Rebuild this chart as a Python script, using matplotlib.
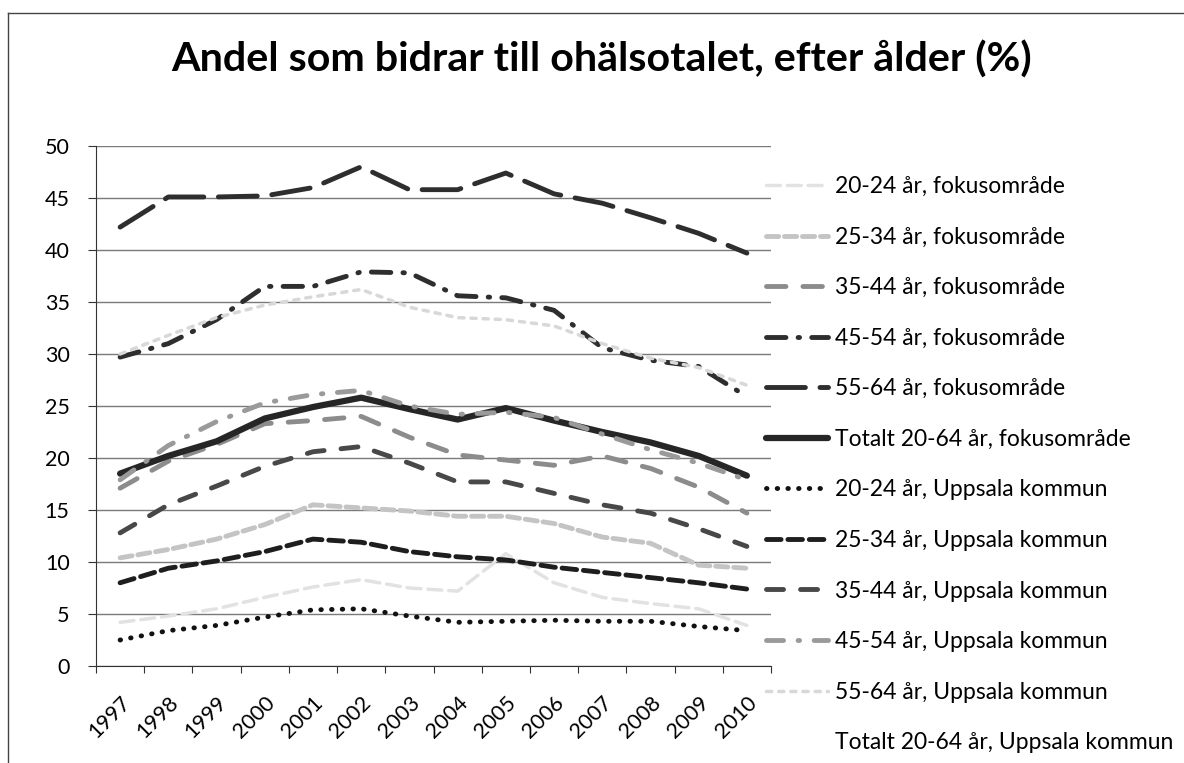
import numpy as np
import matplotlib
matplotlib.use("Agg")
import matplotlib.pyplot as plt
from matplotlib.lines import Line2D

plt.rcParams['font.family'] = ['Lato', 'DejaVu Sans']

years = [str(y) for y in range(1997, 2011)]

# fokusområde
fokus_20_24 = [4.2, 4.8, 5.5, 6.6, 7.6, 8.3, 7.5, 7.2, 10.8, 8.0, 6.6, 6.0, 5.5, 3.9]
fokus_25_34 = [10.4, 11.2, 12.2, 13.6, 15.5, 15.2, 14.9, 14.4, 14.4, 13.7, 12.4, 11.8, 9.7, 9.4]
fokus_35_44 = [17.1, 19.7, 21.3, 23.3, 23.6, 24.0, 22.0, 20.3, 19.8, 19.3, 20.2, 19.0, 17.2, 14.7]
fokus_45_54 = [29.7, 31.0, 33.3, 36.5, 36.5, 37.9, 37.8, 35.6, 35.4, 34.2, 30.6, 29.4, 28.8, 25.9]
fokus_55_64 = [42.2, 45.1, 45.1, 45.2, 46.0, 48.0, 45.8, 45.8, 47.4, 45.4, 44.5, 43.1, 41.6, 39.7]
fokus_tot = [18.5, 20.2, 21.6, 23.8, 24.9, 25.8, 24.7, 23.7, 24.8, 23.6, 22.5, 21.5, 20.2, 18.3]

# Uppsala kommun
upp_20_24 = [2.5, 3.4, 3.9, 4.7, 5.4, 5.5, 4.8, 4.2, 4.3, 4.4, 4.3, 4.3, 3.8, 3.4]
upp_25_34 = [8.0, 9.4, 10.1, 11.0, 12.2, 11.9, 11.0, 10.5, 10.2, 9.5, 9.0, 8.5, 8.0, 7.4]
upp_35_44 = [12.8, 15.5, 17.3, 19.2, 20.6, 21.1, 19.5, 17.7, 17.7, 16.6, 15.5, 14.7, 13.2, 11.5]
upp_45_54 = [17.9, 21.2, 23.5, 25.3, 26.1, 26.5, 25.0, 24.2, 24.4, 23.9, 22.3, 20.8, 19.5, 17.9]
upp_55_64 = [30.0, 31.8, 33.5, 34.7, 35.5, 36.2, 34.5, 33.5, 33.3, 32.7, 31.0, 29.6, 28.7, 27.0]

series = [
    ("20-24 år, fokusområde", fokus_20_24, "#e2e2e2", 2.5, (0, (4, 2))),
    ("25-34 år, fokusområde", fokus_25_34, "#c4c4c4", 3.5, (0, (2.5, 1.2))),
    ("35-44 år, fokusområde", fokus_35_44, "#8c8c8c", 3.5, (0, (4, 3.5))),
    ("45-54 år, fokusområde", fokus_45_54, "#2e2e2e", 3.5, (0, (4, 2.5, 0.3, 2.5))),
    ("55-64 år, fokusområde", fokus_55_64, "#2e2e2e", 3.5, (0, (8, 3))),
    ("Totalt 20-64 år, fokusområde", fokus_tot, "#262626", 4.5, "-"),
    ("20-24 år, Uppsala kommun", upp_20_24, "#111111", 3.5, (0, (0.1, 2.1))),
    ("25-34 år, Uppsala kommun", upp_25_34, "#1e1e1e", 3.5, (0, (3, 1.4))),
    ("35-44 år, Uppsala kommun", upp_35_44, "#484848", 3.5, (0, (3.5, 3.5))),
    ("45-54 år, Uppsala kommun", upp_45_54, "#9a9a9a", 3.5, (0, (3.5, 3.0, 0.3, 3.0))),
    ("55-64 år, Uppsala kommun", upp_55_64, "#d8d8d8", 2.5, (0, (1.5, 2))),
]

fig = plt.figure(figsize=(11.84, 7.63), dpi=100)
ax = fig.add_axes([96 / 1184, 97 / 763, 675 / 1184, 520 / 763])

x = np.arange(len(years))
handles = []
for label, vals, col, lw, ls in series:
    h, = ax.plot(x, vals, color=col, lw=lw, linestyle=ls,
                 dash_capstyle="round", solid_capstyle="round", label=label)
    handles.append(h)
# Totalt Uppsala kommun is not visible in the chart, only in the legend
handles.append(Line2D([], [], color="white", lw=3.5))
labels = [s[0] for s in series] + ["Totalt 20-64 år, Uppsala kommun"]

ax.set_xlim(-0.5, len(years) - 0.5)
ax.set_ylim(0, 50)
ax.set_yticks(range(0, 51, 5))
ax.grid(axis="y", color="#7a7a7a", lw=1)
ax.set_axisbelow(True)
for s in ["top", "right"]:
    ax.spines[s].set_visible(False)
ax.spines["left"].set_color("#333333")
ax.spines["bottom"].set_color("#333333")

ax.set_xticks(np.arange(-0.5, len(years), 1))
ax.set_xticklabels([])
ax.set_xticks(x, minor=True)
ax.set_xticklabels(years, minor=True, rotation=45, ha="right",
                   rotation_mode="anchor", fontsize=15.5)
ax.tick_params(axis="x", which="major", direction="out", length=5, color="#333333")
ax.tick_params(axis="x", which="minor", length=0, pad=19)
ax.tick_params(axis="y", direction="out", length=6, color="#333333",
               labelsize=15.5, pad=13)

fig.text(0.508, 1 - 60 / 763, "Andel som bidrar till ohälsotalet, efter ålder (%)",
         ha="center", va="center", fontsize=29.7, fontweight="bold")

fig.legend(handles, labels, loc="upper left", bbox_to_anchor=(766 / 1184, 1 - 176 / 763),
           frameon=False, fontsize=16.5, handlelength=2.7, handletextpad=0.3,
           labelspacing=1.29, borderpad=0, borderaxespad=0)

# border of the chart area
fig.add_artist(Line2D([8 / 1184, 8 / 1184], [0, 1 - 13 / 763], color="#444444", lw=1))
fig.add_artist(Line2D([8 / 1184, 1], [1 - 13 / 763, 1 - 13 / 763], color="#444444", lw=1))

fig.savefig("out.png", dpi=100)
